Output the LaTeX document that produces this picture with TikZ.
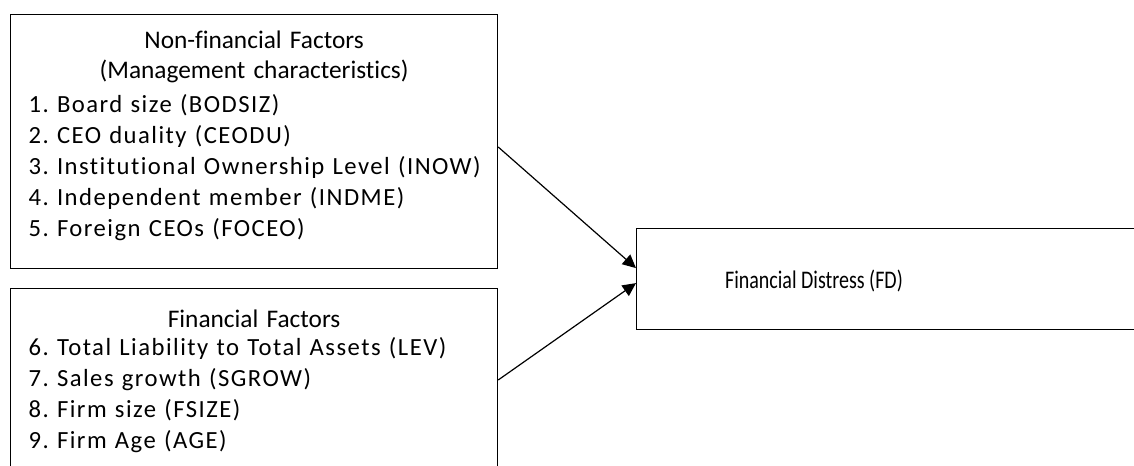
\documentclass[tikz,border=0pt]{standalone}
\usepackage{fontspec}
\usepackage{graphicx}
\setmainfont{Carlito}[Ligatures=NoCommon]
\newfontfamily\listfont{Carlito}[Ligatures=NoCommon,LetterSpace=6]
\frenchspacing
\usetikzlibrary{arrows.meta,calc}

\begin{document}
\begin{tikzpicture}[x=0.75pt,y=0.75pt,yscale=-1,xscale=1,
  factorbox/.style={draw, line width=0.9pt, anchor=north west, inner sep=0pt},
  factortext/.style={anchor=north, inner sep=0pt, text width=338.25pt, align=left,
    font=\fontsize{18.5}{23.2}\selectfont},
  link/.style={line width=0.9pt, -{Triangle[length=10pt,width=9.5pt]}}]
\useasboundingbox (0,0) rectangle (1134,466);
\clip (0,0) rectangle (1134,466);

%Shape: Rectangle [non-financial factors]
\node [factorbox, minimum width=365.25pt, minimum height=190.5pt] (nonfin) at (10,14) {};
%Shape: Rectangle [financial factors]
\node [factorbox, minimum width=365.25pt, minimum height=190.5pt] (fin) at (10,288) {};
%Shape: Rectangle [financial distress]
\node [factorbox, minimum width=385.5pt, minimum height=75.75pt] (fd) at (636,228) {};

% Text Node
\node [factortext] (nonfintext) at ($(nonfin.north)+(0,17)$)
  {{\centering\fontsize{19}{22}\selectfont Non-financial Factors\\(Management characteristics)\par}
   \vspace{2.5pt}\listfont
   1. Board size (BODSIZ)\\
   2. CEO duality (CEODU)\\
   3. Institutional Ownership Level (INOW)\\
   4. Independent member (INDME)\\
   5. Foreign CEOs (FOCEO)};
% Text Node
\node [factortext] (fintext) at ($(fin.north)+(0,22)$)
  {{\centering\fontsize{19}{22}\selectfont Financial Factors\par}
   \vspace{-2.5pt}\listfont
   6. Total Liability to Total Assets (LEV)\\
   7. Sales growth (SGROW)\\
   8. Firm size (FSIZE)\\
   9. Firm Age (AGE)};
% Text Node
\node [inner sep=0pt, font=\fontsize{19}{22}\selectfont] (fdtext) at ($(fd.west)+(178,2)$)
  {\scalebox{0.79}[1]{Financial Distress (FD)}};

%Straight Lines
\draw [link] ($(nonfin.north east)+(0,133)$) -- ($(fd.west)+(0,-11)$);
\draw [link] ($(fin.north east)+(0,92)$) -- ($(fd.west)+(0,4)$);

\end{tikzpicture}
\end{document}
